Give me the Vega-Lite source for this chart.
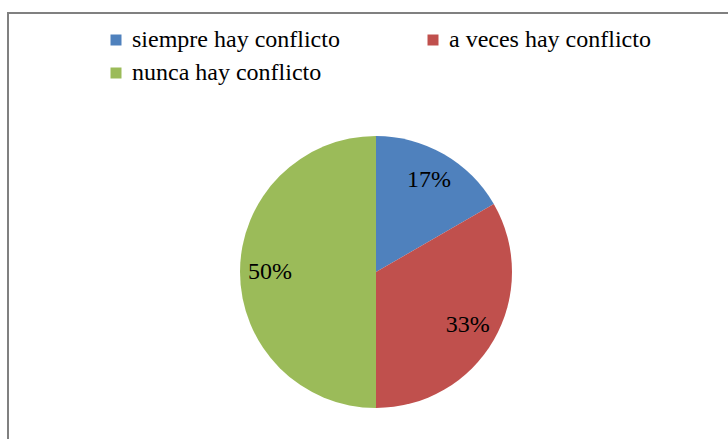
{
  "$schema": "https://vega.github.io/schema/vega-lite/v6.json",
  "autosize": "none",
  "width": 736,
  "height": 518,
  "padding": {"left": 8, "top": 13, "right": 0, "bottom": 0},
  "background": "white",
  "view": {"stroke": "#808080", "strokeWidth": 2},
  "config": {
    "view": {"stroke": "#808080", "strokeWidth": 2},
    "font": "Liberation Serif"
  },
  "data": {
    "values": [
      {"categoria": "siempre hay conflicto", "orden": 1, "pct": 0.1667},
      {"categoria": "a veces hay conflicto", "orden": 2, "pct": 0.3333},
      {"categoria": "nunca hay conflicto", "orden": 3, "pct": 0.5}
    ]
  },
  "encoding": {
    "theta": {"field": "pct", "type": "quantitative", "stack": true},
    "order": {"field": "orden", "type": "quantitative"}
  },
  "layer": [
    {
      "mark": {"type": "arc", "radius": 136},
      "encoding": {
        "color": {
          "field": "categoria",
          "type": "nominal",
          "scale": {
            "domain": ["siempre hay conflicto", "nunca hay conflicto", "a veces hay conflicto"],
            "range": ["#4F81BD", "#9BBB59", "#C0504D"]
          },
          "legend": {
            "title": null,
            "orient": "none",
            "legendX": 96,
            "legendY": 15,
            "columns": 2,
            "columnPadding": 81,
            "rowPadding": 9,
            "padding": 0,
            "symbolType": "square",
            "symbolSize": 121,
            "symbolStrokeWidth": 0,
            "labelOffset": 4,
            "labelFont": "Liberation Serif",
            "labelFontSize": 24,
            "labelColor": "#000000",
            "labelLimit": 400
          }
        }
      }
    },
    {
      "mark": {"type": "text", "radius": 106, "font": "Liberation Serif", "fontSize": 24, "color": "#000000", "align": "center", "baseline": "middle"},
      "encoding": {
        "text": {"field": "pct", "type": "quantitative", "format": ".0%"}
      }
    }
  ]
}
